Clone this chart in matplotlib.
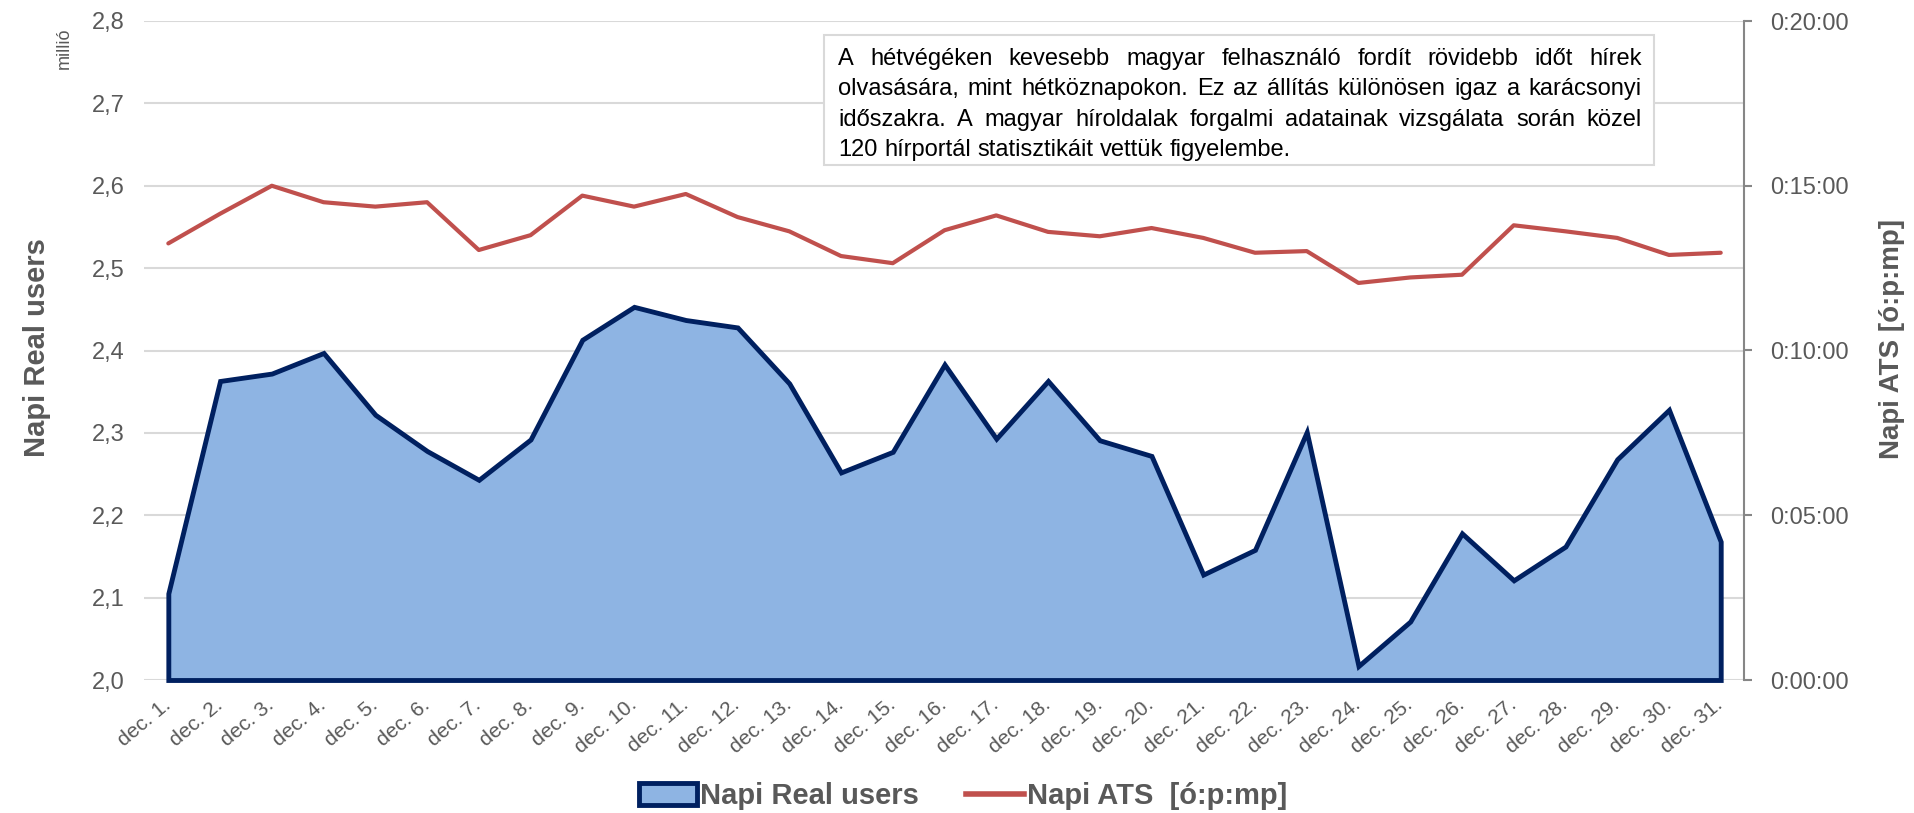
import numpy as np
import matplotlib
matplotlib.use("Agg")
import matplotlib.pyplot as plt
from matplotlib import font_manager
from matplotlib.patches import Patch, Rectangle
from matplotlib.lines import Line2D
from matplotlib.ticker import FuncFormatter, MultipleLocator

# Adatok
napok = list(range(1, 32))
cimkek = [f"dec. {d}." for d in napok]

# Napi Real users (millió)
real_users = [2.105, 2.363, 2.372, 2.397, 2.322, 2.278, 2.243, 2.292, 2.413, 2.453,
              2.437, 2.428, 2.360, 2.252, 2.277, 2.383, 2.293, 2.363, 2.291, 2.272,
              2.128, 2.158, 2.301, 2.017, 2.071, 2.178, 2.121, 2.162, 2.268, 2.328,
              2.168]

# Napi ATS (másodperc)
ats_sec = [795, 849, 900, 870, 862, 870, 783, 810, 882, 862,
           885, 843, 817, 772, 759, 819, 846, 816, 808, 823,
           805, 778, 781, 723, 733, 738, 828, 817, 805, 774,
           778]

szoveg = [
    "A hétvégéken kevesebb magyar felhasználó fordít rövidebb időt hírek",
    "olvasására, mint hétköznapokon. Ez az állítás különösen igaz a karácsonyi",
    "időszakra. A magyar híroldalak forgalmi adatainak vizsgálata során közel",
    "120 hírportál statisztikáit vettük figyelembe.",
]

fonts = {f.name for f in font_manager.fontManager.ttflist}
narrow = "Liberation Sans Narrow" if "Liberation Sans Narrow" in fonts else "Liberation Sans"
plt.rcParams["font.family"] = ["Liberation Sans", "DejaVu Sans"]

GRAY = "#595959"
W, H = 1915, 813
fig = plt.figure(figsize=(W / 100, H / 100), dpi=100)
ax = fig.add_axes([144 / W, 1 - 680 / H, (1744 - 144) / W, (680 - 21) / H])

x = np.arange(len(napok))
ax.fill_between(x, real_users, 2.0, facecolor="#8EB4E3", edgecolor="#002060",
                linewidth=3.5, joinstyle="miter", clip_on=False, zorder=2)

ax.set_xlim(-0.47, 30.45)
ax.set_ylim(2.0, 2.8)
ax.yaxis.set_major_locator(MultipleLocator(0.1))
ax.yaxis.set_major_formatter(FuncFormatter(lambda v, p: f"{v:.1f}".replace(".", ",")))
ax.yaxis.grid(True, color="#D9D9D9", linewidth=1.5)
ax.set_axisbelow(True)
for s in ax.spines.values():
    s.set_visible(False)
ax.tick_params(axis="y", length=0, labelsize=17, labelcolor=GRAY, pad=14)
ax.set_xticks(x)
ax.set_xticklabels(cimkek, rotation=40, ha="right", va="center", rotation_mode="anchor",
                   fontsize=15, color=GRAY)
ax.tick_params(axis="x", length=0, pad=16)

ax2 = ax.twinx()
ax2.plot(x, ats_sec, color="#C0504D", linewidth=3, solid_capstyle="round", zorder=3)
ax2.set_ylim(0, 1200)
ax2.yaxis.set_major_locator(MultipleLocator(300))
ax2.yaxis.set_major_formatter(FuncFormatter(
    lambda v, p: f"{int(v) // 3600}:{int(v) % 3600 // 60:02d}:{int(v) % 60:02d}"))
for k, s in ax2.spines.items():
    s.set_visible(k == "right")
ax2.spines["right"].set_color("#868686")
ax2.spines["right"].set_linewidth(1.5)
ax2.tick_params(axis="y", length=6, width=1.5, color="#868686",
                labelsize=17, labelcolor=GRAY, pad=13)

# Tengelyfeliratok
fig.text(37 / W, 1 - 348 / H, "Napi Real users", rotation=90, ha="center", va="center",
         fontsize=21, fontweight="bold", color=GRAY, family=[narrow, "DejaVu Sans"])
fig.text(1892 / W, 1 - 339 / H, "Napi ATS [ó:p:mp]", rotation=90, ha="center", va="center",
         fontsize=20, fontweight="bold", color=GRAY, family=[narrow, "DejaVu Sans"])
fig.text(64 / W, 1 - 48 / H, "millió", rotation=90, ha="center", va="center",
         fontsize=13, color=GRAY)

# Szövegdoboz (sorkizárt)
bx0, bx1, by0, by1 = 824, 1654, 35, 165
fig.add_artist(Rectangle((bx0 / W, 1 - by1 / H), (bx1 - bx0) / W, (by1 - by0) / H,
                         transform=fig.transFigure, facecolor="white",
                         edgecolor="#D9D9D9", linewidth=1.5, zorder=4))
tx0, tx1 = 838, 1642
renderer = fig.canvas.get_renderer()
fs_box = 17
probe = fig.text(0, 0, "x x", fontsize=fs_box)
probe2 = fig.text(0, 0, "xx", fontsize=fs_box)
space_w = probe.get_window_extent(renderer).width - probe2.get_window_extent(renderer).width
probe.remove()
probe2.remove()
for i, line in enumerate(szoveg):
    y = 1 - (65 + i * 30.3) / H
    words = line.split()
    arts = [fig.text(0, y, w, fontsize=fs_box, color="black", va="baseline", zorder=5)
            for w in words]
    widths = [a.get_window_extent(renderer).width for a in arts]
    if i < len(szoveg) - 1:
        gap = (tx1 - tx0 - sum(widths)) / (len(words) - 1)
    else:
        gap = space_w
    pos = tx0
    for a, w in zip(arts, widths):
        a.set_x(pos / W)
        pos += w + gap

# Jelmagyarázat
handles = [Patch(facecolor="#8EB4E3", edgecolor="#002060", linewidth=3.5),
           Line2D([], [], color="#C0504D", linewidth=4)]
leg = fig.legend(handles, ["Napi Real users", "Napi ATS  [ó:p:mp]"],
                 loc="center", bbox_to_anchor=(0.503, 1 - 796 / H), ncol=2,
                 frameon=False, handlelength=2.0, handleheight=0.75,
                 handletextpad=0.1, columnspacing=1.6,
                 prop={"size": 21, "weight": "bold"})
for t in leg.get_texts():
    t.set_color(GRAY)

fig.savefig("out.png", dpi=100)
